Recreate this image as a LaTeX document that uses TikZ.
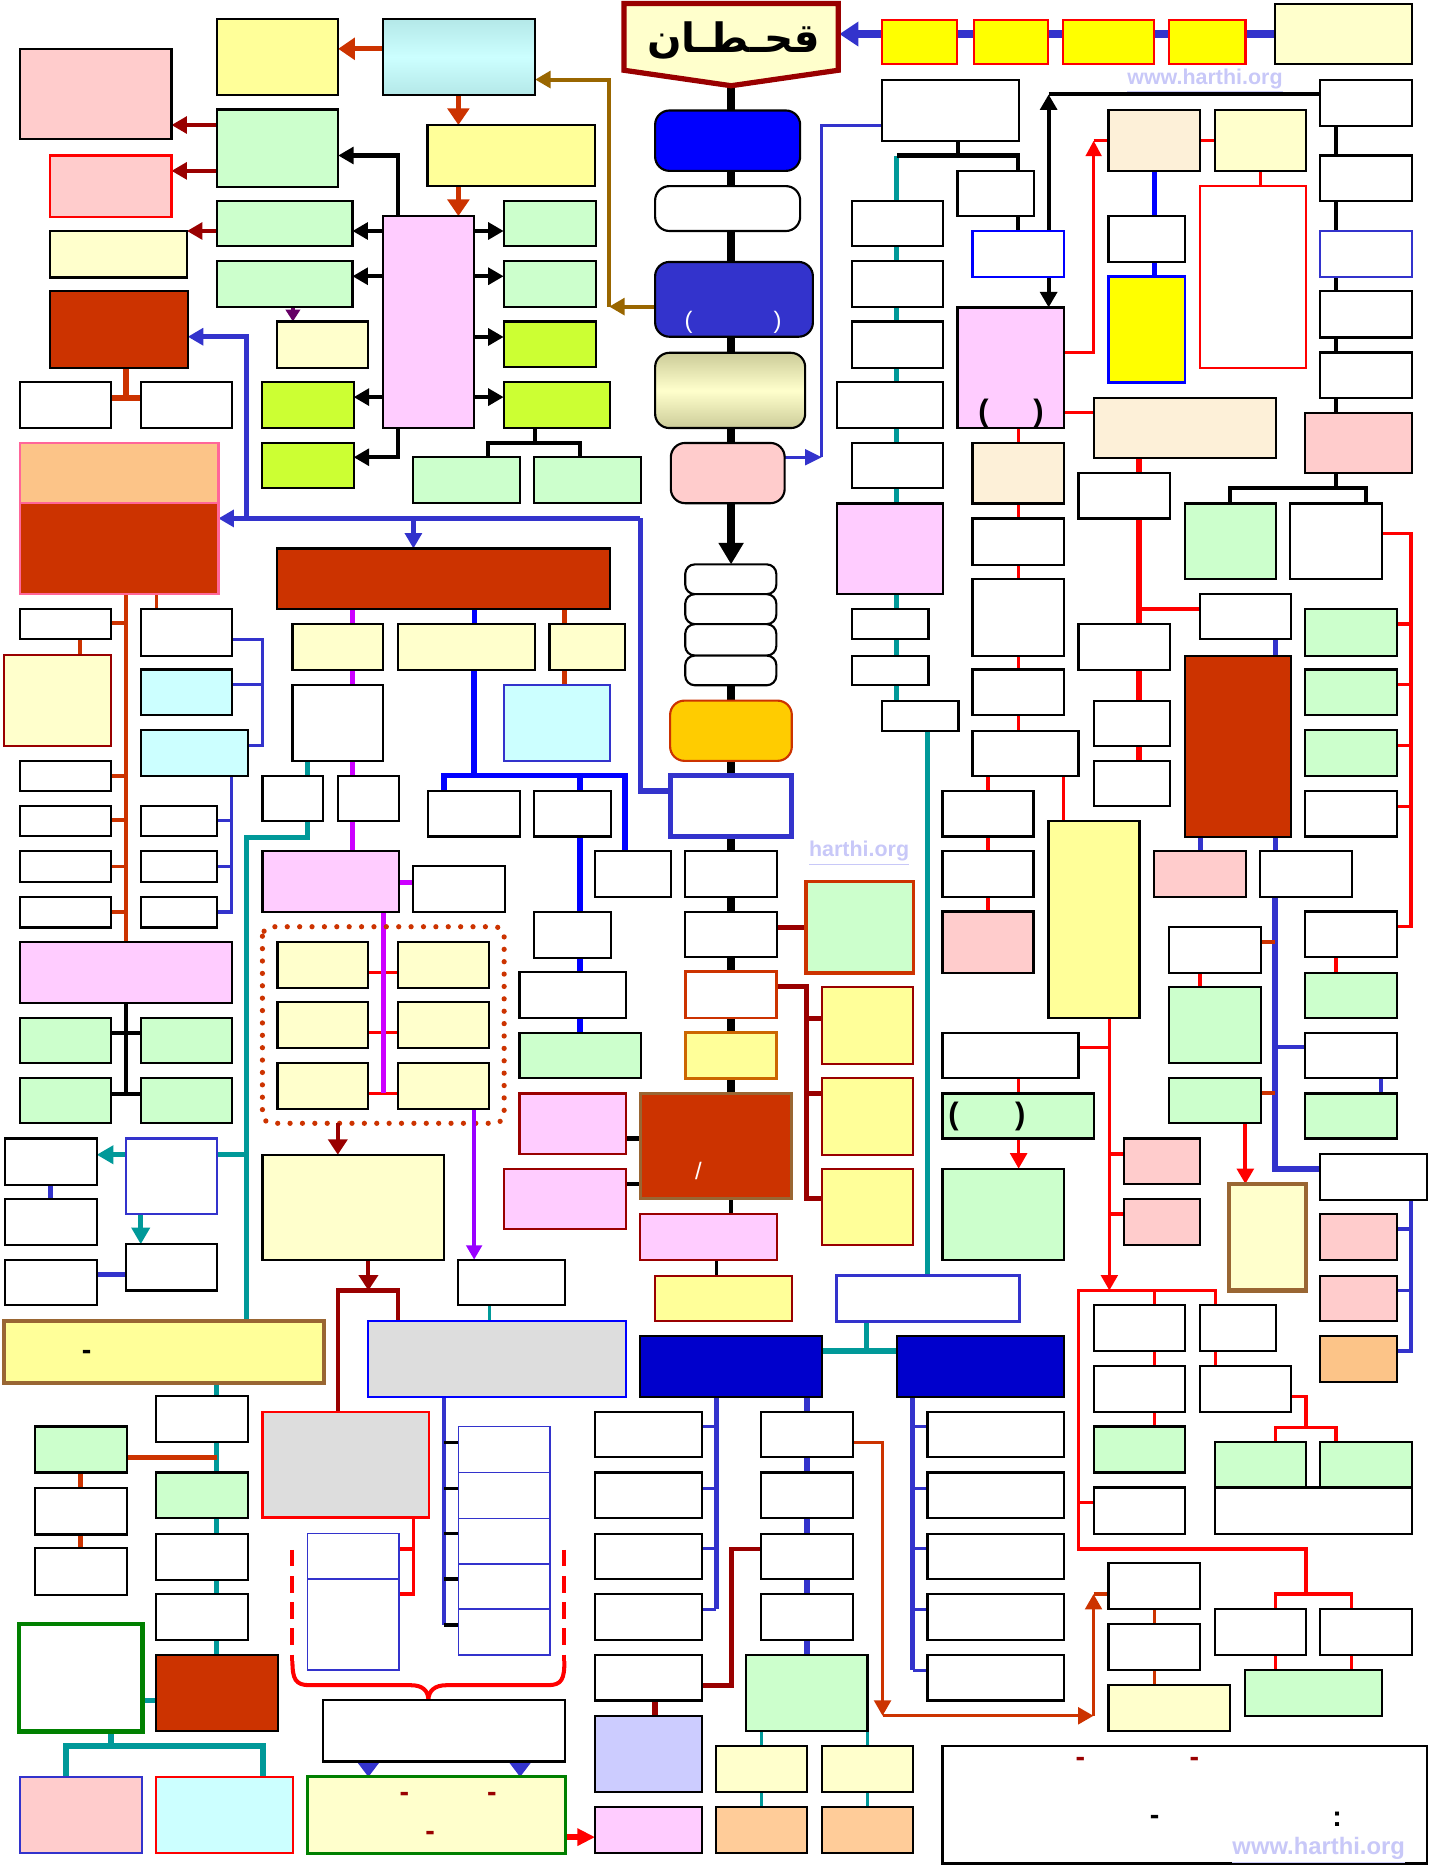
\documentclass[tikz,border=0pt]{standalone}
\usepackage{fontspec}
\setmainfont{Liberation Sans}
\newfontfamily\arabicfont[Script=Arabic]{DejaVu Sans}
\TeXXeTstate=1
\usetikzlibrary{arrows.meta}
\pgfdeclarelayer{bg}
\pgfsetlayers{bg,main}
\definecolor{cOR}{HTML}{CC3300}
\definecolor{cDR}{HTML}{990000}
\definecolor{cPY}{HTML}{FFFF99}
\definecolor{cLY}{HTML}{FFFFCC}
\definecolor{cLG}{HTML}{CCFFCC}
\definecolor{cPK}{HTML}{FFCCFF}
\definecolor{cSP}{HTML}{FFCCCC}
\definecolor{cCY}{HTML}{CCFFFF}
\definecolor{cCYd}{HTML}{B4E8E8}
\definecolor{cLM}{HTML}{CCFF33}
\definecolor{cPE}{HTML}{FFCC99}
\definecolor{cOG}{HTML}{FCC488}
\definecolor{cLV}{HTML}{CCCCFF}
\definecolor{cGR}{HTML}{DDDDDD}
\definecolor{cBG}{HTML}{FDF0D8}
\definecolor{cDB}{HTML}{0000CC}
\definecolor{cBL}{HTML}{0000FF}
\definecolor{cMB}{HTML}{3333CC}
\definecolor{cTL}{HTML}{009999}
\definecolor{cMG}{HTML}{CC00FF}
\definecolor{cPU}{HTML}{9900FF}
\definecolor{cBR}{HTML}{996633}
\definecolor{cBA}{HTML}{996600}
\definecolor{cYL}{HTML}{FFFF00}
\definecolor{cGO}{HTML}{FFCC00}
\definecolor{cOB}{HTML}{CC6600}
\definecolor{cWM}{HTML}{C8C8F8}
\definecolor{cPR}{HTML}{660066}
\definecolor{cRD}{HTML}{FF0000}
\definecolor{cGN}{HTML}{008000}
\definecolor{cPB}{HTML}{FF6699}
\definecolor{cOL}{HTML}{CCCC99}
\newcommand\BX[6][]{\node[bxn,#1,minimum width={(#5-#3)*0.5pt},minimum height={(#6-#4)*0.5pt}] (#2) at ({(#3+#5)/2},{(#4+#6)/2}) {};}
\begin{document}
\begin{tikzpicture}[x=0.5pt,y=-0.5pt,
  bxn/.style={draw,line width=0.9pt,inner sep=0pt,outer sep=0pt,fill=white,rectangle},
  rnd/.style={rounded corners=6pt},
  tip/.style={-{Triangle[length=6.5pt,width=7pt]}},
  wm/.style={text=cWM,font=\bfseries\fontsize{9}{9}\selectfont},
  sym/.style={font=\bfseries\fontsize{12}{12}\selectfont,inner sep=0pt}]
\useasboundingbox (0,0) rectangle (1203,1568);

% ---------- top ----------
\draw[line width=2.2pt,draw=cDR,fill=cLY] (524,3) -- (704,3) -- (704,59) -- (614,72) -- (524,59) -- cycle;
\coordinate (pentb) at (614,72);
\coordinate (pente) at (705,28.6);
\node (title) at (616,34) {\arabicfont\bfseries\fontsize{17}{17}\selectfont\beginR قحـطـان\endR};
\BX[fill=cYL,draw=cRD]{ya}{741}{17}{804}{54}
\BX[fill=cYL,draw=cRD]{yb}{818}{17}{880}{54}
\BX[fill=cYL,draw=cRD]{yc}{893}{17}{969}{54}
\BX[fill=cYL,draw=cRD]{yd}{982}{17}{1046}{54}
\BX[fill=cLY]{ly0}{1071}{3.5}{1186}{54}

% ---------- left top ----------
\BX[fill=cPY]{a1}{182}{16}{284}{80}
\BX[top color=cCYd,bottom color=cCYd,middle color=cCY]{cy}{321.5}{16}{449.4}{80}
\BX[fill=cPY]{a2}{359}{105}{500}{156}
\BX[fill=cPK]{pk}{321.5}{181.5}{398}{359.5}
\BX[fill=cSP]{s1}{17}{41}{144}{117}
\BX[fill=cLG]{g1}{182}{92}{284}{157}
\BX[fill=cSP,draw=cRD]{s2}{42}{130.6}{144}{182}
\BX[fill=cLG]{g2}{182}{169}{296}{206.5}
\BX[fill=cLY]{ly1}{42}{194}{157}{233}
\BX[fill=cLG]{g3}{182}{219.4}{296}{258}
\BX[fill=cLY]{ly2}{232.4}{270}{309}{309}
\BX[fill=cLM]{lm1}{220}{320.6}{297}{359.5}
\BX[fill=cLM]{lm2}{220}{372}{297}{410}
\BX[fill=cLG]{g4}{423}{169}{500.4}{206.5}
\BX[fill=cLG]{g5}{423}{219.5}{500.4}{257.5}
\BX[fill=cLM]{lm3}{423}{270}{500.4}{308}
\BX[fill=cLM]{lm4}{423}{320.6}{512.4}{359.5}
\BX[fill=cLG]{g6}{346.7}{384}{436.8}{422.6}
\BX[fill=cLG]{g7}{448.7}{384}{538.2}{422.6}
\BX[fill=cOR]{dr1}{42}{244.7}{157.7}{308.8}
\BX{w1}{16.8}{320.6}{93.2}{359.5}
\BX{w2}{118.2}{320.6}{195.2}{359.5}
\BX[fill=cOR,draw=cPB,line width=1.1pt]{big}{16.8}{372}{183.4}{498.8}
\draw[draw=cPB,fill=cOG,line width=1.1pt] (16.8,372) rectangle (183.4,422.6);

% ---------- left column ----------
\BX{w3}{16.8}{511.3}{93.2}{537}
\BX{w4}{118.2}{511.3}{195.2}{550.6}
\BX[fill=cLY,draw=cDR]{ly3}{3.4}{550}{93.2}{626.2}
\BX[fill=cCY]{c1}{118.2}{562.3}{195.2}{600.8}
\BX[fill=cCY]{c2}{118.2}{613}{208}{651.8}
\BX{w5}{16.8}{639}{93.2}{664.3}
\BX{w6}{16.8}{676.7}{93.2}{702.4}
\BX{w7}{16.8}{715}{93.2}{740.6}
\BX{w8}{16.8}{753}{93.2}{779}
\BX{w9}{118.2}{676.7}{182.6}{702.4}
\BX{w10}{118.2}{715}{182.6}{740.6}
\BX{w11}{118.2}{753}{182.6}{779}
\BX[fill=cPK]{pk2}{16.8}{790.8}{195.2}{842}
\BX[fill=cLG]{g8}{16.8}{855}{93.2}{892.7}
\BX[fill=cLG]{g9}{118.2}{855}{195.2}{892.7}
\BX[fill=cLG]{g10}{16.8}{905.6}{93.2}{943.4}
\BX[fill=cLG]{g11}{118.2}{905.6}{195.2}{943.4}
\BX{w12}{4.2}{956.2}{81.2}{995}
\BX[draw=cMB]{bo1}{105.8}{956.2}{182.6}{1019.7}
\BX{w13}{4.2}{1006.9}{81.2}{1045.7}
\BX{w14}{105.8}{1045}{182.6}{1083.8}
\BX{w15}{4.2}{1057.9}{81.2}{1096.3}
\BX[fill=cPY,draw=cBR,line width=1.8pt]{ylong}{3.4}{1109.2}{272.2}{1161.5}
\BX{w16}{131}{1172.6}{208}{1211.4}
\BX[fill=cLG]{g12}{131}{1236.7}{208}{1275.2}
\BX{w17}{131}{1288}{208}{1326.9}
\BX{w18}{131}{1338.7}{208}{1377.5}
\BX[fill=cOR]{dr2}{131}{1390}{233.3}{1454.1}
\BX[fill=cLG]{g13}{29.4}{1198}{106.4}{1236.7}
\BX{w19}{29.4}{1250}{106.4}{1288.7}
\BX{w20}{29.4}{1300.4}{106.4}{1339.4}
\BX[draw=cGN,line width=1.8pt]{gb}{16.2}{1364}{119.6}{1454.1}
\BX[fill=cSP,draw=cMB]{pb1}{16.8}{1492.3}{119}{1556.4}
\BX[fill=cCY,draw=cRD]{cb1}{131}{1492.3}{245.9}{1556.4}
\BX[fill=cLY,draw=cGN,line width=1.2pt]{lyg}{258.2}{1492.3}{474.6}{1556.4}

% ---------- middle ----------
\BX[fill=cOR]{hdr}{232.4}{460.7}{512.4}{511.3}
\BX[fill=cLY]{h1}{245.6}{524.2}{322}{563}
\BX[fill=cLY]{h2}{334.6}{524.2}{449.4}{563}
\BX[fill=cLY]{h3}{461.5}{524.2}{525}{563}
\BX{w21}{245.6}{575.5}{322}{639}
\BX[fill=cCY,draw=cMB]{c3}{423.4}{575.5}{512.4}{639}
\BX{w22}{220.4}{651.8}{271.6}{689.6}
\BX{w23}{283.7}{651.8}{335.4}{689.6}
\BX{w24}{359.3}{664.2}{436.8}{702.5}
\BX{w25}{448.6}{664.2}{513}{702.5}
\BX{w26}{499.8}{715}{563.4}{753}
\BX[fill=cPK]{pk3}{220.4}{715}{335.4}{766}
\BX{w27}{347.2}{727.5}{424.2}{766}
\BX{w28}{448.6}{766}{513}{804.3}
\BX{w29}{436.3}{816.1}{525.9}{855}
\BX[fill=cLG]{g14}{436.3}{867.4}{538.2}{905.6}
\BX[fill=cLY]{d1}{233}{790.8}{309.4}{829.7}
\BX[fill=cLY]{d2}{334.6}{790.8}{411}{829.7}
\BX[fill=cLY]{d3}{233}{841.5}{309.4}{880.3}
\BX[fill=cLY]{d4}{334.6}{841.5}{411}{880.3}
\BX[fill=cLY]{d5}{233}{892.7}{309.4}{931.6}
\BX[fill=cLY]{d6}{334.6}{892.7}{411}{931.6}
\BX[fill=cLY]{ly4}{220.4}{969.8}{373}{1057.9}
\BX{w30}{385}{1057.9}{474.6}{1096.3}
\BX[fill=cGR,draw=cBL]{gr1}{308.9}{1109.2}{525.9}{1173.3}
\BX[fill=cGR,draw=cRD]{gr2}{220.4}{1186}{360.4}{1274.4}
\BX[draw=cMB,line width=0.7pt]{sk1}{385}{1198}{462}{1236.7}
\BX[draw=cMB,line width=0.7pt]{sk2}{385}{1236.7}{462}{1275.2}
\BX[draw=cMB,line width=0.7pt]{sk3}{385}{1275.2}{462}{1313.3}
\BX[draw=cMB,line width=0.7pt]{sk4}{385}{1313.3}{462}{1351.5}
\BX[draw=cMB,line width=0.7pt]{sk5}{385}{1351.5}{462}{1390}
\BX[draw=cMB,line width=0.7pt]{t1}{258.2}{1288}{335.2}{1326.2}
\BX[draw=cMB,line width=0.7pt]{t2}{258.2}{1326.2}{335.2}{1402.8}
\BX{w31}{271}{1428}{474.6}{1479.4}
\BX[fill=cPK,draw=cDR]{pk4}{436.3}{918.4}{525.9}{969.1}
\BX[fill=cPK,draw=cDR]{pk5}{423.4}{981.5}{525.9}{1032.2}
\BX[fill=cPK]{pk6}{499.8}{1517.6}{589.5}{1556.4}

% ---------- center ----------
\BX[fill=cBL,rnd]{ce1}{550.2}{92.8}{672}{143.5}
\BX[rnd]{ce2}{550.2}{156.3}{672}{194}
\BX[fill=cMB,rnd]{ce3}{550.2}{220}{682.7}{282.8}
\BX[rnd,top color=cOL,bottom color=cOL,middle color=cLY]{ce4}{550.2}{296.3}{676.2}{359.5}
\BX[fill=cSP,rnd]{ce5}{563.4}{372}{659}{422.6}
\BX[rounded corners=4pt]{st1}{575.5}{474}{652}{499}
\BX[rounded corners=4pt]{st2}{575.5}{499}{652}{524.2}
\BX[rounded corners=4pt]{st3}{575.5}{524.2}{652}{550.6}
\BX[rounded corners=4pt]{st4}{575.5}{550.6}{652}{575.5}
\BX[fill=cGO,draw=cOR,rnd]{ce6}{562.8}{588.4}{665}{639}
\BX[draw=cMB,line width=2.2pt]{ce7}{562.8}{651.5}{665}{702.5}
\BX{ce8}{575.5}{715}{652.4}{753}
\BX{ce9}{575.5}{766}{652.4}{803.7}
\BX[draw=cOR,line width=1.2pt]{ce10}{575.5}{816}{652.4}{855}
\BX[fill=cPY,draw=cOB,line width=1.2pt]{ce11}{575.5}{866.8}{652.4}{905.6}
\BX[fill=cOR,draw=cBR,line width=1.2pt]{ce12}{537.6}{918.4}{665}{1006.8}
\BX[fill=cPK,draw=cDR]{ce13}{537.6}{1019.7}{652.4}{1057.9}
\BX[fill=cPY,draw=cDR]{ce14}{550.2}{1071.4}{665}{1109.2}
\BX[fill=cLG,draw=cOR,line width=1.5pt]{ce15}{677.1}{740.3}{767.2}{817.2}
\BX[fill=cPY,draw=cDR]{ce16}{690.3}{829}{766.7}{893.8}
\BX[fill=cPY,draw=cDR]{ce17}{690.3}{905.6}{766.7}{969.8}
\BX[fill=cPY,draw=cDR]{ce18}{690.3}{981.5}{766.7}{1045.7}
\BX[draw=cMB,line width=1.3pt]{ce19}{702.3}{1071.4}{856.3}{1109.7}
\BX[fill=cDB]{db1}{537.6}{1122}{690.3}{1173.3}
\BX[fill=cDB]{db2}{753.3}{1122}{893.8}{1173.3}
\BX{lw1}{499.8}{1186.2}{589.5}{1224}
\BX{lw2}{499.8}{1236.7}{589.5}{1275.2}
\BX{lw3}{499.8}{1288}{589.5}{1326.2}
\BX{lw4}{499.8}{1338.7}{589.5}{1377.5}
\BX{lw5}{499.8}{1390}{589.5}{1428.1}
\BX[fill=cLV]{lv}{499.8}{1441}{589.5}{1504.7}
\BX{mw1}{639.3}{1186.2}{716.3}{1224}
\BX{mw2}{639.3}{1236.7}{716.3}{1275.2}
\BX{mw3}{639.3}{1288}{716.3}{1326.2}
\BX{mw4}{639.3}{1338.7}{716.3}{1377.5}
\BX[fill=cLG]{mg}{626.7}{1390}{728.6}{1454.1}
\BX[fill=cLY]{my1}{601.5}{1466.3}{677.6}{1504.7}
\BX[fill=cLY]{my2}{690.3}{1466.3}{766.7}{1504.7}
\BX[fill=cPE]{mp1}{601.5}{1517.6}{677.6}{1556.4}
\BX[fill=cPE]{mp2}{690.3}{1517.6}{766.7}{1556.4}
\BX{rw1}{779}{1186.2}{893.8}{1224}
\BX{rw2}{779}{1236.7}{893.8}{1275.2}
\BX{rw3}{779}{1288}{893.8}{1326.2}
\BX{rw4}{779}{1338.7}{893.8}{1377.5}
\BX{rw5}{779}{1390}{893.8}{1428.1}

% ---------- right center ----------
\BX{r1}{740.7}{67.5}{856}{118.1}
\BX{r2}{804.2}{143.5}{868.6}{181.6}
\BX[draw=cBL]{r3}{816.8}{194}{893.8}{232.9}
\BX[fill=cPK]{r4}{804.2}{258.2}{893.8}{359.5}
\BX{tw1}{715.5}{168.8}{791.9}{206.6}
\BX{tw2}{715.5}{219.4}{791.9}{257.5}
\BX{tw3}{715.5}{270}{791.9}{308.8}
\BX{tw4}{702.9}{320.6}{791.9}{359.5}
\BX{tw5}{715.5}{372}{791.9}{410}
\BX[fill=cPK]{tpk}{702.9}{422.9}{791.9}{498.8}
\BX{tw6}{715.5}{511.3}{779.8}{537}
\BX{tw7}{715.5}{550.6}{779.8}{575.5}
\BX{tw8}{740.7}{588.4}{805}{613.7}
\BX[fill=cBG]{q1}{816.8}{372}{893.8}{422.9}
\BX{q2}{816.8}{435.4}{893.8}{474.2}
\BX{q3}{816.8}{486}{893.8}{550.6}
\BX{q4}{816.8}{562.3}{893.8}{600.8}
\BX{q5}{816.8}{613.7}{905.8}{651.8}
\BX{q6}{791.6}{664.2}{868}{702.5}
\BX{q7}{791.6}{715}{868}{753}
\BX[fill=cSP]{q8}{791.6}{765.5}{868}{817.2}
\BX[fill=cPY]{qy}{880.6}{689.6}{957}{855}
\BX{q9}{791.6}{867.4}{905.8}{905.6}
\BX[fill=cLG]{q10}{791.6}{918.4}{919}{956.2}
\BX[fill=cLG]{q11}{791.6}{981.5}{893.8}{1057.9}
\BX[fill=cSP]{q12}{944.2}{956.2}{1008}{994.4}
\BX[fill=cSP]{q13}{944.2}{1006.8}{1008}{1045.7}

% ---------- top right ----------
\BX[fill=cBG]{b1}{931}{92.1}{1008}{143.5}
\BX[fill=cLY]{b2}{1020.1}{92.1}{1096.9}{143.5}
\BX{b3}{931}{181.6}{995.5}{220.1}
\BX[fill=cYL,draw=cBL]{b4}{931}{232.2}{995.5}{321.3}
\BX[draw=cRD]{b5}{1007.5}{155.9}{1096.9}{308.8}
\BX[fill=cBG]{b6}{918.5}{334}{1071.6}{384.8}
\BX{k1}{1108.9}{66.9}{1185.9}{105.7}
\BX{k2}{1108.9}{130.6}{1185.9}{168.8}
\BX[draw=cMB]{k3}{1108.9}{194}{1185.9}{232.9}
\BX{k4}{1108.9}{244.7}{1185.9}{283.5}
\BX{k5}{1108.9}{296}{1185.9}{334}
\BX[fill=cSP]{k6}{1096.3}{346.6}{1185.9}{397.6}
\BX[fill=cLG]{k7}{994.9}{422.9}{1071.6}{486}
\BX{k8}{1083.7}{422.9}{1160.7}{486}
\BX{m1}{905.8}{397.6}{982.9}{435.4}
\BX{m2}{1007.5}{498.8}{1084.3}{537}
\BX{m3}{905.8}{524.2}{982.9}{563}
\BX{m4}{918.5}{588.4}{982.9}{626.5}
\BX{m5}{918.5}{639}{982.9}{677.1}
\BX[fill=cOR]{mdr}{994.9}{550.6}{1084.5}{703.1}
\BX[fill=cSP]{m6}{969.4}{715}{1046.5}{753}
\BX{m7}{1058.5}{715}{1135.5}{753}
\BX{m8}{982}{778.3}{1059}{817.2}
\BX[fill=cLG]{m9}{982}{829}{1059}{893.1}
\BX[fill=cLG]{m10}{982}{905.6}{1059}{943.4}
\BX[fill=cLY,draw=cBR,line width=1.8pt]{m11}{1032.4}{994.4}{1097.1}{1083.8}
\BX[fill=cLG]{n1}{1096.3}{511.3}{1173.3}{550.6}
\BX[fill=cLG]{n2}{1096.3}{562.3}{1173.3}{600.8}
\BX[fill=cLG]{n3}{1096.3}{613}{1173.3}{651.8}
\BX{n4}{1096.3}{664.2}{1173.3}{702.5}
\BX{n5}{1096.3}{765.5}{1173.3}{803.7}
\BX[fill=cLG]{n6}{1096.3}{816.9}{1173.3}{855}
\BX{n7}{1096.3}{867.4}{1173.3}{905.6}
\BX[fill=cLG]{n8}{1096.3}{918.4}{1173.3}{956.2}
\BX{n9}{1108.9}{969.1}{1198.5}{1007.5}
\BX[fill=cSP]{n10}{1108.9}{1019.7}{1173.3}{1057.9}
\BX[fill=cSP]{n11}{1108.9}{1071.4}{1173.3}{1109.2}
\BX[fill=cOG]{n12}{1108.9}{1122}{1173.3}{1160.5}
\BX{p1}{918.5}{1096.3}{995.5}{1134.5}
\BX{p2}{1007.5}{1096.3}{1071.6}{1134.5}
\BX{p3}{918.5}{1147.4}{995.5}{1186.2}
\BX{p4}{1007.5}{1147.4}{1084.3}{1186.2}
\BX[fill=cLG]{p5}{918.5}{1198}{995.5}{1236.7}
\BX{p6}{918.5}{1249.3}{995.5}{1288}
\BX[fill=cLG]{p7}{1020.1}{1211.4}{1096.9}{1249.3}
\BX[fill=cLG]{p8}{1108.9}{1211.4}{1185.9}{1249.3}
\BX{p9}{1020.1}{1249.3}{1185.9}{1288}
\BX{p10}{931}{1312.7}{1008}{1351.5}
\BX{p11}{931}{1364}{1008}{1402.8}
\BX[fill=cLY]{p12}{931}{1415.3}{1033.3}{1454.1}
\BX{p13}{1020.1}{1351.2}{1096.9}{1390}
\BX{p14}{1108.9}{1351.2}{1185.9}{1390}
\BX[fill=cLG]{p15}{1045.9}{1402.8}{1160.7}{1441}
\BX{bb}{791.6}{1466.3}{1198.5}{1565}

% ---------- connectors ----------
\begin{pgfonlayer}{bg}
\draw[draw=cMB,line width=3pt,-{Triangle[length=8pt,width=10pt]}] (ly0.west |- pente) -- (pente);
\draw[draw=cOR,line width=2pt,-{Triangle[length=7pt,width=9pt]}] (cy.west |- 0,41) -- (a1.east |- 0,41);
\draw[draw=cOR,line width=2pt,-{Triangle[length=7pt,width=9pt]}] (cy.south -| 385,0) -- (a2.north -| 385,0);
\draw[draw=cOR,line width=2pt,-{Triangle[length=7pt,width=9pt]}] (a2.south -| 385,0) -- (pk.north -| 385,0);
\coordinate (brc) at (511.6,257.5);
\draw[draw=cBA,line width=1.7pt,tip] (ce3.west |- brc) -- (brc);
\draw[draw=cBA,line width=1.7pt,tip] (brc) |- (cy.east |- 0,66.8);
\draw[draw=cDR,line width=1.7pt,tip] (g1.west |- 0,105) -- (s1.east |- 0,105);
\draw[draw=cDR,line width=1.7pt,tip] (g1.west |- 0,143.5) -- (s2.east |- 0,143.5);
\draw[draw=cDR,line width=1.7pt,tip] (g2.west |- 0,194) -- (ly1.east |- 0,194);
\draw[line width=1.7pt,tip] (pk.north -| 334.5,0) |- (g1.east |- 0,130.6);
\draw[line width=1.7pt,tip] (pk.west |- 0,194) -- (g2.east |- 0,194);
\draw[line width=1.7pt,tip] (pk.west |- 0,232) -- (g3.east |- 0,232);
\draw[line width=1.7pt,tip] (pk.west |- 0,333.5) -- (lm1.east |- 0,333.5);
\draw[line width=1.7pt,tip] (pk.south -| 334.5,0) |- (lm2.east |- 0,384);
\draw[line width=1.7pt,tip] (pk.east |- 0,194) -- (g4.west |- 0,194);
\draw[line width=1.7pt,tip] (pk.east |- 0,232) -- (g5.west |- 0,232);
\draw[line width=1.7pt,tip] (pk.east |- 0,283) -- (lm3.west |- 0,283);
\draw[line width=1.7pt,tip] (pk.east |- 0,333.5) -- (lm4.west |- 0,333.5);
\draw[draw=cPR,line width=1.4pt,-{Triangle[length=5pt,width=6pt]}] (g3.south -| 246,0) -- (ly2.north -| 246,0);
\draw[line width=1.7pt] (lm4.south -| 449,0) -- (449,372);
\draw[line width=1.7pt] (g6.north -| 410,0) -- (410,372) -- (487,372) -- (g7.north -| 487,0);
\draw[draw=cOR,line width=2.5pt] (dr1.south -| 105.8,0) -- (105.8,334);
\draw[draw=cOR,line width=2.5pt] (w1.east |- 0,334) -- (w2.west |- 0,334);
\coordinate (bj) at (537.6,435.4);
\draw[draw=cMB,line width=2.2pt] (ce7.west |- 0,664.3) -| (bj);
\draw[draw=cMB,line width=2.2pt,tip] (bj) -- (big.east |- bj);
\draw[draw=cMB,line width=2.2pt,tip] (347.2,435.4) -- (hdr.north -| 347.2,0);
\draw[draw=cMB,line width=2.2pt,tip] (207,435.4) |- (dr1.east |- 0,282.8);
\draw[draw=cOR,line width=1.5pt] (big.south -| 105.8,0) -- (pk2.north -| 105.8,0);
\foreach \n/\y in {w3/523,w5/651.5,w6/688.9,w7/727.7,w8/765.9}
  \draw[draw=cOR,line width=1.5pt] (\n.east |- 0,\y) -- (105.8,\y);
\draw[draw=cOR,line width=1.5pt] (big.south -| 131.6,0) -- (w4.north -| 131.6,0);
\draw[draw=cOR,line width=2pt] (w3.south -| 67.2,0) -- (ly3.north -| 67.2,0);
\draw[draw=cMB,line width=1.4pt] (w4.east |- 0,537) -| (220.7,626) -- (c2.east |- 0,626);
\draw[draw=cMB,line width=1.4pt] (c1.east |- 0,575) -- (220.7,575);
\draw[draw=cMB,line width=1.4pt] (c2.south -| 194.6,0) |- (w11.east |- 0,765.9);
\draw[draw=cMB,line width=1.4pt] (w9.east |- 0,688.9) -- (194.6,688.9);
\draw[draw=cMB,line width=1.4pt] (w10.east |- 0,727.7) -- (194.6,727.7);
\draw[line width=1.7pt] (pk2.south -| 105.8,0) -- (105.8,918.4);
\draw[line width=1.7pt] (g8.east |- 0,867.4) -- (g9.west |- 0,867.4);
\draw[line width=1.7pt] (g10.east |- 0,918.4) -- (g11.west |- 0,918.4);
\draw[draw=cTL,line width=2.1pt] (w21.south -| 258.2,0) -- (w22.north -| 258.2,0);
\draw[draw=cTL,line width=2.1pt] (w22.south -| 258.2,0) -- (258.2,703) -- (207.2,703) -- (ylong.north -| 207.2,0);
\draw[draw=cTL,line width=2.1pt] (bo1.east |- 0,969.8) -- (207.2,969.8);
\draw[draw=cTL,line width=2.2pt,-{Triangle[length=7pt,width=7.5pt]}] (bo1.west |- 0,969.8) -- (w12.east |- 0,969.8);
\draw[draw=cTL,line width=2.2pt,-{Triangle[length=7pt,width=7.5pt]}] (bo1.south -| 118.2,0) -- (w14.north -| 118.2,0);
\draw[draw=cMB,line width=2.1pt] (w12.south -| 42,0) -- (w13.north -| 42,0);
\draw[draw=cMB,line width=2.4pt] (w15.east |- 0,1070.3) -- (w14.west |- 0,1070.3);
\draw[draw=cTL,line width=2.1pt] (ylong.south -| 182,0) -- (dr2.north -| 182,0);
\draw[draw=cOR,line width=2pt] (g13.east |- 0,1224) -- (182,1224);
\draw[draw=cOR,line width=2.1pt] (g13.south -| 67.8,0) -- (w19.north -| 67.8,0);
\draw[draw=cOR,line width=2.1pt] (w19.south -| 67.8,0) -- (w20.north -| 67.8,0);
\draw[draw=cTL,line width=2.1pt] (gb.east |- 0,1428) -- (dr2.west |- 0,1428);
\draw[draw=cTL,line width=2.4pt] (gb.south -| 93.2,0) -- (93.2,1466.3);
\draw[draw=cTL,line width=2.4pt] (pb1.north -| 55.4,0) |- (220.7,1466.3) -- (cb1.north -| 220.7,0);
\draw[draw=cMG,line width=2.2pt] (hdr.south -| 296.3,0) -- (h1.north -| 296.3,0);
\draw[draw=cBL,line width=2.1pt] (hdr.south -| 398.2,0) -- (h2.north -| 398.2,0);
\draw[draw=cOR,line width=2.1pt] (hdr.south -| 474,0) -- (h3.north -| 474,0);
\draw[draw=cOR,line width=2.1pt] (h3.south -| 474,0) -- (c3.north -| 474,0);
\draw[draw=cMG,line width=2.2pt] (h1.south -| 296.3,0) -- (pk3.north -| 296.3,0);
\draw[draw=cMG,line width=2.2pt] (pk3.east |- 0,741) -- (w27.west |- 0,741);
\foreach \a/\b/\y in {d1/d2/816.9,d3/d4/867.4,d5/d6/918.1}
  \draw[draw=cRD,line width=1.35pt] (\a.east |- 0,\y) -- (\b.west |- 0,\y);
\draw[draw=cMG,line width=2.2pt] (pk3.south -| 322,0) -- (322,918.1);
\draw[draw=cBL,line width=2.3pt] (h2.south -| 398.2,0) -- (398.2,651.5);
\draw[draw=cBL,line width=2.3pt] (w24.north -| 373,0) |- (525,651.5) -- (w26.north -| 525,0);
\draw[draw=cBL,line width=2.3pt] (487.2,651.5) -- (w25.north -| 487.2,0);
\draw[draw=cBL,line width=2.3pt] (w25.south -| 487.2,0) -- (g14.north -| 487.2,0);
\draw[draw=cOR,line width=2.2pt,line cap=round,dash pattern=on 0pt off 5.2pt,rounded corners=4pt] (220.4,778.3) rectangle (423.4,943.4);
\coordinate (dotb) at (283.7,943.4);
\draw[draw=cDR,line width=1.7pt,-{Triangle[length=6.5pt,width=8pt]}] (dotb) -- (ly4.north -| dotb);
\draw[draw=cPU,line width=1.4pt,-{Triangle[length=6pt,width=6.5pt]}] (d6.south -| 398.2,0) -- (w30.north -| 398.2,0);
\coordinate (ldj) at (309.4,1083.8);
\draw[draw=cDR,line width=1.7pt,-{Triangle[length=6.5pt,width=8pt]}] (ly4.south -| ldj) -- (ldj);
\draw[draw=cDR,line width=1.7pt] (gr2.north -| 283.7,0) |- (334.6,1083.8) -- (gr1.north -| 334.6,0);
\draw[draw=cTL,line width=1.4pt] (w30.south -| 411,0) -- (gr1.north -| 411,0);
\draw[draw=cMB,line width=1.8pt] (gr1.south -| 373,0) -- (373,1364.7);
\foreach \n/\y in {sk1/1211.4,sk2/1250,sk3/1288,sk4/1326.2,sk5/1364.7}
  \draw[line width=1.5pt] (373,\y) -- (\n.west |- 0,\y);
\draw[draw=cRD,line width=1.4pt] (gr2.south -| 347.2,0) |- (t2.east |- 0,1338.7);
\draw[draw=cRD,line width=1.4pt] (t1.east |- 0,1301) -- (347.2,1301);
\draw[draw=cRD,line width=1.7pt,dash pattern=on 7pt off 4pt] (245.6,1301.6) -- (245.6,1395);
\draw[draw=cRD,line width=1.7pt,dash pattern=on 7pt off 4pt] (474,1301.6) -- (474,1395);
\draw[draw=cRD,line width=1.7pt] (245.6,1395) .. controls (245.6,1410) and (248,1415.3) .. (260,1415.3) -- (345,1415.3) .. controls (355,1415.3) and (359.8,1420) .. (359.8,1428) .. controls (359.8,1420) and (365,1415.3) .. (375,1415.3) -- (460,1415.3) .. controls (472,1415.3) and (474,1410) .. (474,1395);
\draw[draw=cMB,line width=0.5pt,-{Triangle[length=6pt,width=9pt]}] (w31.south -| 309.4,0) -- (lyg.north -| 309.4,0);
\draw[draw=cMB,line width=0.5pt,-{Triangle[length=6pt,width=9pt]}] (w31.south -| 436.8,0) -- (lyg.north -| 436.8,0);
\draw[draw=cRD,line width=2.4pt,-{Triangle[length=7.5pt,width=7pt]}] (lyg.east |- 0,1542.9) -- (pk6.west |- 0,1542.9);
% center spine
\draw[line width=3.5pt,-{Triangle[length=9pt,width=10pt]}] (pentb) -- (st1.north -| pentb);
\draw[line width=3.5pt] (st4.south -| pentb) -- (ce12.north -| pentb);
\draw[line width=1.7pt] (ce12.south -| pentb) -- (ce13.north -| pentb);
\draw[line width=1.4pt] (ce13.south -| 601.5,0) -- (ce14.north -| 601.5,0);
\coordinate (bc5) at (690.2,384);
\draw[draw=cMB,line width=1.4pt,-{Triangle[length=7pt,width=6.5pt]}] (ce5.east |- bc5) -- (bc5);
\draw[draw=cMB,line width=1.4pt] (bc5) |- (r1.west |- 0,105.3);
\draw[draw=cDR,line width=2pt] (ce9.east |- 0,779) -- (ce15.west |- 0,779);
\draw[draw=cDR,line width=2.1pt] (ce10.east |- 0,828.6) -| (677,1006.8) -- (ce18.west |- 0,1006.8);
\draw[draw=cDR,line width=2.1pt] (677,855) -- (ce16.west |- 0,855);
\draw[draw=cDR,line width=2.1pt] (677,918) -- (ce17.west |- 0,918);
\draw[line width=1.8pt] (ce12.west |- 0,956.2) -- (pk4.east |- 0,956.2);
\draw[line width=1.8pt] (ce12.west |- 0,994.4) -- (pk5.east |- 0,994.4);
\draw[draw=cTL,line width=2.1pt] (tw8.south -| 779,0) -- (ce19.north -| 779,0);
\draw[draw=cTL,line width=2.1pt] (ce19.south -| 728,0) -- (728,1134.5);
\draw[draw=cTL,line width=2.4pt] (db1.east |- 0,1134.5) -- (db2.west |- 0,1134.5);
\draw[draw=cMB,line width=2.1pt] (db1.south -| 601.5,0) -- (601.5,1351.5);
\foreach \n/\y in {lw1/1198,lw2/1250,lw3/1300.6,lw4/1351.5}
  \draw[draw=cMB,line width=1.35pt] (\n.east |- 0,\y) -- (601.5,\y);
\draw[draw=cDR,line width=2pt] (lw5.east |- 0,1415.3) -| (614.6,1301) -- (mw3.west |- 0,1301);
\draw[draw=cDR,line width=2.4pt] (lw5.south -| 550.2,0) -- (lv.north -| 550.2,0);
\draw[draw=cMB,line width=2.5pt] (db1.south -| 677.6,0) -- (mg.north -| 677.6,0);
\foreach \x in {639.3,728.6}
  \draw[draw=cTL,line width=1.4pt] (mg.south -| \x,0) -- (mp1.north -| \x,0);
\coordinate (oa) at (741.2,1441);
\coordinate (ob) at (918.4,1441);
\coordinate (oc) at (918.4,1338.7);
\draw[draw=cOR,line width=1.4pt,tip] (mw1.east |- 0,1211.4) -| (oa);
\draw[draw=cOR,line width=1.4pt,tip] (oa) -- (ob);
\draw[draw=cOR,line width=1.4pt,tip] (ob) -- (oc);
\draw[draw=cOR,line width=1.4pt] (oc) -- (p10.west |- oc);
\draw[draw=cMB,line width=2.1pt] (db2.south -| 766.7,0) -- (766.7,1402.8);
\foreach \n/\y in {rw1/1198,rw2/1250,rw3/1300.6,rw4/1351.5,rw5/1402.8}
  \draw[draw=cMB,line width=1.35pt] (766.7,\y) -- (\n.west |- 0,\y);
\draw[draw=cTL,line width=2.1pt] (753.3,130.6) -- (tw8.north -| 753.3,0);
\draw[line width=1.8pt] (r1.south -| 804.5,0) -- (804.5,130.6);
\draw[line width=1.8pt] (753.3,130.6) -- (855,130.6) -- (r2.north -| 855,0);
\draw[line width=1.8pt] (r2.south -| 855,0) -- (r3.north -| 855,0);
\coordinate (da) at (880.7,79.3);
\draw[line width=1.7pt,tip] (r3.north -| da) -- (da);
\draw[line width=1.7pt] (da) -- (k1.west |- da);
\draw[line width=1.7pt,tip] (r3.south -| da) -- (r4.north -| da);
\coordinate (ra) at (918.5,118.1);
\draw[draw=cRD,line width=1.4pt,-{Triangle[length=6.5pt,width=6.5pt]}] (r4.east |- 0,296.3) -| (ra);
\draw[draw=cRD,line width=1.4pt] (ra) -- (b1.west |- ra);
\draw[draw=cRD,line width=1.4pt] (r4.east |- 0,346.6) -- (b6.west |- 0,346.6);
\draw[draw=cRD,line width=1.4pt] (b1.east |- 0,118.1) -- (b2.west |- 0,118.1);
\draw[draw=cBL,line width=2pt] (b1.south -| 969.7,0) -- (b3.north -| 969.7,0);
\draw[draw=cBL,line width=2pt] (b3.south -| 969.7,0) -- (b4.north -| 969.7,0);
\draw[draw=cRD,line width=1.4pt] (b2.south -| 1058.5,0) -- (b5.north -| 1058.5,0);
\draw[line width=1.8pt] (k1.south -| 1122.3,0) -- (k6.north -| 1122.3,0);
\draw[line width=1.8pt] (k6.south -| 1122.3,0) -- (1122.3,410);
\draw[line width=1.8pt] (k7.north -| 1033.3,0) |- (1147.2,410) -- (k8.north -| 1147.2,0);
\draw[draw=cRD,line width=1.4pt] (k8.east |- 0,448.2) -| (1185,778.3) -- (n5.east |- 0,778.3);
\foreach \n/\y in {n1/524.2,n2/574.9,n3/626.2,n4/677.1}
  \draw[draw=cRD,line width=1.4pt] (\n.east |- 0,\y) -- (1185,\y);
\draw[draw=cRD,line width=2.5pt] (b6.south -| 956.8,0) -- (m5.north -| 956.8,0);
\draw[draw=cRD,line width=1.6pt] (956.8,511.3) -- (m2.west |- 0,511.3);
\draw[draw=cRD,line width=1.4pt] (r4.south -| 855.5,0) -- (q5.north -| 855.5,0);
\draw[draw=cRD,line width=1.4pt] (q5.south -| 893.3,0) -- (qy.north -| 893.3,0);
\draw[draw=cRD,line width=1.4pt] (q5.south -| 829.7,0) -- (q8.north -| 829.7,0);
\draw[draw=cRD,line width=1.4pt] (q9.south -| 855.5,0) -- (q10.north -| 855.5,0);
\draw[draw=cRD,line width=1.4pt,tip] (q10.south -| 855.5,0) -- (q11.north -| 855.5,0);
\coordinate (rq) at (931.7,1083.8);
\draw[draw=cRD,line width=1.4pt,tip] (qy.south -| rq) -- (rq);
\draw[draw=cRD,line width=1.4pt] (q9.east |- 0,879.6) -- (931.7,879.6);
\draw[draw=cRD,line width=1.4pt] (931.7,969.1) -- (q12.west |- 0,969.1);
\draw[draw=cRD,line width=1.4pt] (931.7,1019.7) -- (q13.west |- 0,1019.7);
\draw[draw=cRD,line width=1.4pt] (p6.west |- 0,1262) -| (905.8,1083.8) -- (1020.7,1083.8) -- (p2.north -| 1020.7,0);
\draw[draw=cRD,line width=1.4pt] (969.7,1083.8) -- (p1.north -| 969.7,0);
\draw[draw=cRD,line width=1.4pt] (p1.south -| 969.7,0) -- (p3.north -| 969.7,0);
\draw[draw=cRD,line width=1.4pt] (p3.south -| 969.7,0) -- (p5.north -| 969.7,0);
\draw[draw=cRD,line width=1.4pt] (p2.south -| 1020.7,0) -- (p4.north -| 1020.7,0);
\draw[draw=cRD,line width=1.4pt] (905.8,1262) -- (905.8,1301) -- (1096.9,1301) -- (1096.9,1338.7);
\draw[draw=cRD,line width=1.4pt] (p13.north -| 1071,0) |- (1135,1338.7) -- (p14.north -| 1135,0);
\draw[draw=cRD,line width=1.4pt] (p13.south -| 1071,0) -- (p15.north -| 1071,0);
\draw[draw=cRD,line width=1.4pt] (p14.south -| 1135,0) -- (p15.north -| 1135,0);
\draw[draw=cRD,line width=1.4pt] (p4.east |- 0,1172.6) -| (1096.9,1198.6);
\draw[draw=cRD,line width=1.4pt] (p7.north -| 1071,0) |- (1122,1198.6) -- (p8.north -| 1122,0);
\draw[draw=cOR,line width=1.4pt] (p10.south -| 969.7,0) -- (p11.north -| 969.7,0);
\draw[draw=cOR,line width=1.4pt] (p11.south -| 969.7,0) -- (p12.north -| 969.7,0);
\draw[draw=cMB,line width=2pt] (m2.south -| 1071,0) -- (mdr.north -| 1071,0);
\draw[draw=cMB,line width=2pt] (mdr.south -| 1071,0) -- (m7.north -| 1071,0);
\draw[draw=cMB,line width=2pt] (mdr.south -| 1008,0) -- (m6.north -| 1008,0);
\draw[draw=cMB,line width=2.5pt] (m7.south -| 1071,0) |- (n9.west |- 0,981.5);
\draw[draw=cOR,line width=1.6pt] (m8.east |- 0,790.8) -- (1071,790.8);
\draw[draw=cMB,line width=1.6pt] (1071,879.6) -- (n7.west |- 0,879.6);
\draw[draw=cOR,line width=1.6pt] (m10.east |- 0,918.1) -- (1071,918.1);
\draw[draw=cRD,line width=1.6pt] (m8.south -| 1008,0) -- (m9.north -| 1008,0);
\draw[draw=cRD,line width=1.6pt,tip] (m10.south -| 1045.9,0) -- (m11.north -| 1045.9,0);
\draw[draw=cRD,line width=1.6pt] (n5.south -| 1122,0) -- (n6.north -| 1122,0);
\draw[draw=cMB,line width=1.6pt] (n7.south -| 1160,0) -- (n8.north -| 1160,0);
\draw[draw=cMB,line width=1.4pt] (n9.south -| 1185,0) |- (n12.east |- 0,1134.5);
\draw[draw=cMB,line width=1.4pt] (n10.east |- 0,1032.2) -- (1185,1032.2);
\draw[draw=cMB,line width=1.4pt] (n11.east |- 0,1083.8) -- (1185,1083.8);
\end{pgfonlayer}

% ---------- texts ----------
\node[text=white,font=\fontsize{10}{10}\selectfont,inner sep=0pt] (ce3l) at (578.2,271) {(};
\node[text=white,font=\fontsize{10}{10}\selectfont,inner sep=0pt] (ce3r) at (653,271) {)};
\node[sym,font=\bfseries\fontsize{13}{13}\selectfont] (r4l) at (826,347) {(};
\node[sym,font=\bfseries\fontsize{13}{13}\selectfont] (r4r) at (872.2,347) {)};
\node[sym,font=\bfseries\fontsize{13}{13}\selectfont] (q10l) at (800.8,937.7) {(};
\node[sym,font=\bfseries\fontsize{13}{13}\selectfont] (q10r) at (856.9,937.7) {)};
\node[text=white,font=\fontsize{10}{10}\selectfont,inner sep=0pt] (slash) at (586.6,983.2) {/};
\node[sym] (dsh1) at (72.8,1137.8) {-};
\node[sym,text=cDR] (dsh2) at (339.6,1509) {-};
\node[sym,text=cDR] (dsh3) at (413,1509) {-};
\node[sym,text=cDR] (dsh4) at (361.2,1541.8) {-};
\node[sym,text=cDR] (dsh5) at (907.3,1479.4) {-};
\node[sym,text=cDR] (dsh6) at (1003,1479.4) {-};
\node[sym] (dsh7) at (969.7,1528.3) {-};
\node[sym] (colon) at (1122.9,1527.6) {:};
\node[wm] (wm1) at (1012,68) {\underline{www.harthi.org}};
\node[wm] (wm2) at (721.5,716.5) {\underline{harthi.org}};
\node[wm,font=\bfseries\fontsize{10}{10}\selectfont] (wm3) at (1107.5,1554) {\underline{www.harthi.org}};
\end{tikzpicture}
\end{document}
